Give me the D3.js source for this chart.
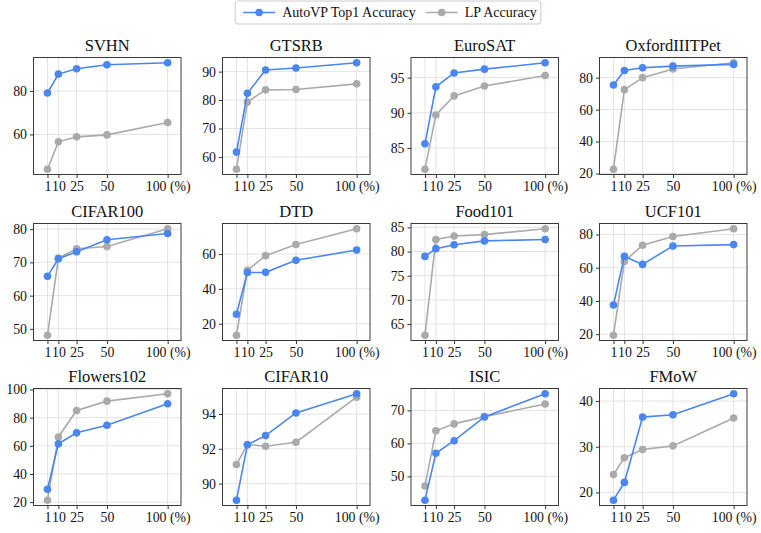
<!DOCTYPE html>
<html>
<head>
<meta charset="utf-8">
<script src="https://cdn.jsdelivr.net/npm/d3@7"></script>
<style>
  body { margin: 0; background: #fff; }
  svg text { font-family: "Liberation Serif", "DejaVu Serif", serif; }
</style>
</head>
<body>
<svg id="chart" width="761" height="533"></svg>
<script>
// panel titles, x values (% of data) and accuracies
const titles = ["SVHN", "GTSRB", "EuroSAT", "OxfordIIITPet", "CIFAR100", "DTD",
                "Food101", "UCF101", "Flowers102", "CIFAR10", "ISIC", "FMoW"];
const percents = [1, 10, 25, 50, 100];
const xTickLabels = ["1", "10", "25", "50", "100 (%)"];

const autoVP = [
  [79.1, 87.8, 90.3, 92.1, 93.0],
  [61.7, 82.4, 90.6, 91.3, 93.1],
  [85.6, 93.7, 95.66, 96.2, 97.1],
  [75.4, 84.5, 86.2, 87.2, 88.3],
  [65.8, 71.1, 73.2, 76.8, 78.7],
  [25.4, 49.4, 49.5, 56.4, 62.3],
  [79.0, 80.6, 81.4, 82.2, 82.5],
  [37.6, 66.8, 62.0, 73.1, 73.9],
  [29.2, 61.4, 69.2, 74.6, 89.9],
  [89.05, 92.23, 92.76, 94.06, 95.16],
  [42.8, 57.0, 60.8, 68.0, 75.0],
  [18.3, 22.2, 36.5, 37.0, 41.6]
];
const lpAcc = [
  [44.0, 56.6, 58.9, 59.8, 65.5],
  [55.7, 79.3, 83.6, 83.7, 85.7],
  [82.0, 89.7, 92.4, 93.8, 95.3],
  [22.7, 72.5, 80.0, 85.4, 89.3],
  [48.1, 71.3, 74.1, 74.8, 80.1],
  [13.4, 50.7, 59.1, 65.5, 74.5],
  [62.7, 82.5, 83.2, 83.5, 84.7],
  [19.4, 63.8, 73.5, 78.8, 83.4],
  [21.4, 66.3, 85.1, 91.7, 96.9],
  [91.1, 92.25, 92.15, 92.38, 94.97],
  [47.1, 63.8, 65.9, 68.1, 71.9],
  [23.9, 27.6, 29.4, 30.2, 36.3]
];
const yTicks = [
  [60, 80], [60, 70, 80, 90], [85, 90, 95], [20, 40, 60, 80],
  [50, 60, 70, 80], [20, 40, 60], [65, 70, 75, 80, 85], [20, 40, 60, 80],
  [20, 40, 60, 80, 100], [90, 92, 94], [50, 60, 70], [20, 30, 40]
];

const blue = "#4a86f0";
const grey = "#aaaaaa";

const svg = d3.select("#chart");

// panel geometry
const lefts = [33.5, 222.5, 411, 599.5];
const tops = [57.5, 223.5, 388.5];
const pw = 147.5, ph = 117;

titles.forEach((title, i) => {
  const col = i % 4, row = Math.floor(i / 4);
  const g = svg.append("g")
    .attr("transform", `translate(${lefts[col]}, ${tops[row]})`);

  const x = d3.scaleLinear().domain([-10.5, 111]).range([0, pw]);
  const all = autoVP[i].concat(lpAcc[i]);
  let [lo, hi] = d3.extent(all);
  const pad = (hi - lo) * 0.05;
  const y = d3.scaleLinear().domain([lo - pad, hi + pad]).range([ph, 0]);

  // grid
  g.append("g").selectAll("line").data(percents).join("line")
    .attr("x1", d => x(d)).attr("x2", d => x(d))
    .attr("y1", 0).attr("y2", ph)
    .attr("stroke", "#e3e3e3").attr("stroke-width", 1);
  g.append("g").selectAll("line").data(yTicks[i]).join("line")
    .attr("x1", 0).attr("x2", pw)
    .attr("y1", d => y(d)).attr("y2", d => y(d))
    .attr("stroke", "#e3e3e3").attr("stroke-width", 1);

  // axes
  const xAxis = d3.axisBottom(x).tickValues(percents)
    .tickFormat((d, k) => xTickLabels[k]).tickSize(3.5).tickPadding(3.5);
  const gx = g.append("g").attr("transform", `translate(0, ${ph})`).call(xAxis);
  const yAxis = d3.axisLeft(y).tickValues(yTicks[i])
    .tickFormat(d3.format("d")).tickSize(3.5).tickPadding(3);
  const gy = g.append("g").call(yAxis);
  [gx, gy].forEach(a => {
    a.attr("font-family", null).attr("font-size", null);
    a.select(".domain").remove();
    a.selectAll(".tick line").attr("stroke", "#333");
    a.selectAll("text").attr("font-size", 13.8).attr("fill", "#111");
  });

  // lines + markers
  const line = d3.line().x((d, k) => x(percents[k])).y(d => y(d));
  [[lpAcc[i], grey], [autoVP[i], blue]].forEach(([vals, color]) => {
    g.append("path").datum(vals)
      .attr("d", line).attr("fill", "none")
      .attr("stroke", color).attr("stroke-width", 1.6);
    g.append("g").selectAll("circle").data(vals).join("circle")
      .attr("cx", (d, k) => x(percents[k]))
      .attr("cy", d => y(d))
      .attr("r", 3.8).attr("fill", color);
  });

  // frame
  g.append("rect").attr("width", pw).attr("height", ph)
    .attr("fill", "none").attr("stroke", "#3a3a3a").attr("stroke-width", 1);

  g.append("text").attr("x", pw / 2).attr("y", -7)
    .attr("text-anchor", "middle").attr("font-size", 16.5).attr("fill", "#111")
    .text(title);
});

// legend
const legendItems = [["AutoVP Top1 Accuracy", blue], ["LP Accuracy", grey]];
const lg = svg.append("g");
const box = lg.append("rect").attr("y", 1).attr("height", 23).attr("rx", 3)
  .attr("fill", "#fff").attr("stroke", "#cccccc");
let cx = 0;
legendItems.forEach(([label, color], k) => {
  const it = lg.append("g").attr("transform", `translate(${cx}, 12.5)`);
  it.append("line").attr("x1", 0).attr("x2", 32)
    .attr("stroke", color).attr("stroke-width", 1.6);
  it.append("circle").attr("cx", 16).attr("r", 3.8).attr("fill", color);
  const t = it.append("text").attr("x", 39).attr("y", 4.8)
    .attr("font-size", 14).attr("fill", "#111").text(label);
  cx += 39 + t.node().getComputedTextLength() + 10;
});
const totalW = cx - 10;
const startX = 390 - totalW / 2;
lg.attr("transform", `translate(${startX}, 0)`);
box.attr("x", -8).attr("width", totalW + 12);
</script>
</body>
</html>
